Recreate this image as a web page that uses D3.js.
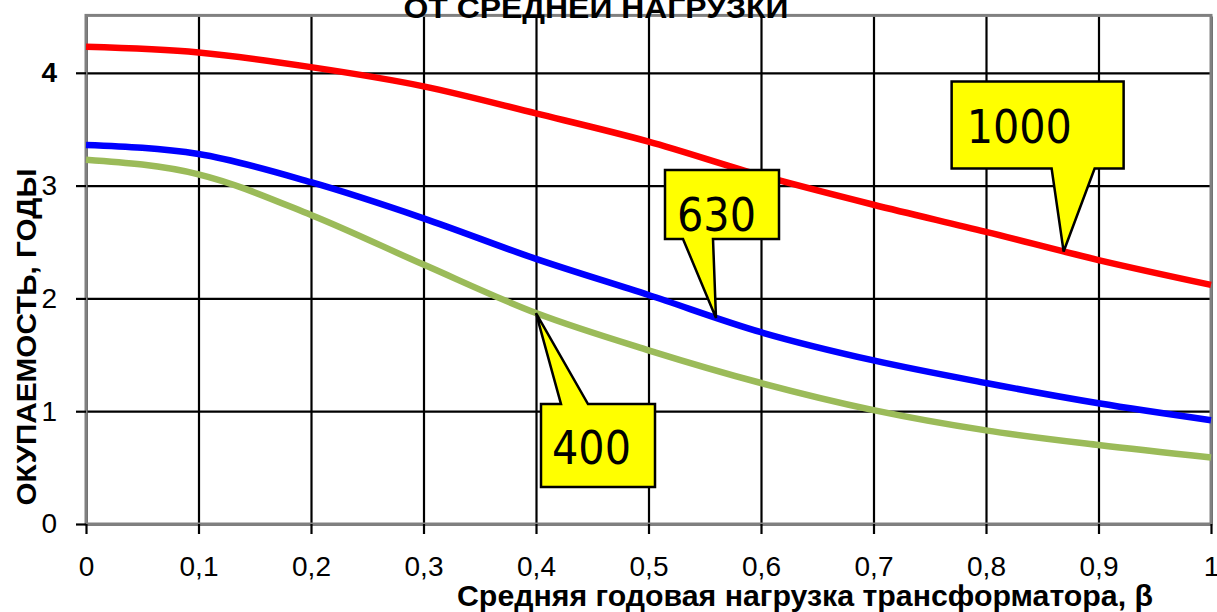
<!DOCTYPE html>
<html>
<head>
<meta charset="utf-8">
<script src="https://cdn.jsdelivr.net/npm/d3@7"></script>
<style>
html,body{margin:0;padding:0;background:#fff;}
svg{display:block;}
</style>
</head>
<body>
<svg id="c" width="1217" height="612"></svg>
<script>
// ---- data ----
const betaValues = [0, 0.1, 0.2, 0.3, 0.4, 0.5, 0.6, 0.7, 0.8, 0.9, 1.0];
const series1000 = [4.23, 4.18, 4.05, 3.88, 3.64, 3.39, 3.09, 2.83, 2.59, 2.34, 2.12];
const series630  = [3.36, 3.28, 3.03, 2.71, 2.35, 2.03, 1.70, 1.45, 1.25, 1.07, 0.92];
const series400  = [3.23, 3.10, 2.74, 2.30, 1.87, 1.54, 1.25, 1.01, 0.83, 0.70, 0.59];
const seriesNames = ["1000", "630", "400"];
const annotBeta = [0.869, 0.56, 0.40];
const xTicks = [0, 0.1, 0.2, 0.3, 0.4, 0.5, 0.6, 0.7, 0.8, 0.9, 1];
const xTickLabels = ["0", "0,1", "0,2", "0,3", "0,4", "0,5", "0,6", "0,7", "0,8", "0,9", "1"];
const yTicks = [0, 1, 2, 3, 4];
const yTickLabels = ["0", "1", "2", "3", "4"];
const titleText = "ОТ СРЕДНЕЙ НАГРУЗКИ";
const xTitle = "Средняя годовая нагрузка трансформатора,  β";
const yTitle = "ОКУПАЕМОСТЬ, ГОДЫ";

// ---- layout ----
const svg = d3.select("#c");
const L = 86, R = 1211, T = 16.4, B = 524;
const x = d3.scaleLinear().domain([0, 1]).range([L, R]);
const y = d3.scaleLinear().domain([0, 4.5]).range([B, T]);
const FONT = "'Liberation Sans', Arial, sans-serif";
const seriesData = [series1000, series630, series400];
const colors = ["#ff0000", "#0000ff", "#9bbb59"];

// grid
const gx = svg.append("g").attr("transform", `translate(0,${B})`)
  .call(d3.axisBottom(x).tickValues(xTicks).tickSize(-(B - T)).tickFormat(""));
gx.select(".domain").remove();
gx.selectAll("line").attr("stroke", "#000").attr("stroke-width", 2.2);
const gy = svg.append("g").attr("transform", `translate(${L},0)`)
  .call(d3.axisLeft(y).tickValues(yTicks).tickSize(-(R - L)).tickFormat(""));
gy.select(".domain").remove();
gy.selectAll("line").attr("stroke", "#000").attr("stroke-width", 2.2);

// frame
svg.append("rect").attr("x", L).attr("y", T - 1).attr("width", R - L).attr("height", B - T + 1)
  .attr("fill", "none").attr("stroke", "#808080").attr("stroke-width", 3);

// axes ticks + labels
const ax = svg.append("g").attr("transform", `translate(0,${B})`)
  .call(d3.axisBottom(x).tickValues(xTicks).tickSize(10).tickPadding(22).tickSizeOuter(0)
    .tickFormat((d, i) => xTickLabels[i]));
ax.select(".domain").remove();
ax.selectAll("line").attr("stroke", "#000").attr("stroke-width", 2.2);
ax.selectAll("text").attr("font-family", FONT).attr("font-size", 28).attr("fill", "#000");

const ay = svg.append("g").attr("transform", `translate(${L},0)`)
  .call(d3.axisLeft(y).tickValues(yTicks).tickSize(10).tickPadding(19).tickSizeOuter(0)
    .tickFormat((d, i) => yTickLabels[i]));
ay.select(".domain").remove();
ay.selectAll("line").attr("stroke", "#000").attr("stroke-width", 2.2);
ay.selectAll("text").attr("font-family", FONT).attr("font-size", 28).attr("fill", "#000")
  .attr("font-weight", d => d === 4 ? "bold" : "normal");

// curves
const line = d3.line().x((d, i) => x(betaValues[i])).y(d => y(d)).curve(d3.curveMonotoneX);
seriesData.forEach((s, k) => {
  svg.append("path").datum(s).attr("d", line).attr("fill", "none")
    .attr("stroke", colors[k]).attr("stroke-width", 6.5).attr("stroke-linejoin", "round");
});

// value on curve for annotation tip
function valueAt(s, b) {
  const tmp = svg.append("path").datum(s).attr("d", line).attr("fill", "none");
  const node = tmp.node();
  const len = node.getTotalLength();
  const px = x(b);
  let lo = 0, hi = len;
  for (let i = 0; i < 40; i++) {
    const m = (lo + hi) / 2;
    if (node.getPointAtLength(m).x < px) lo = m; else hi = m;
  }
  const p = node.getPointAtLength(lo);
  tmp.remove();
  return p.y;
}

// callouts: box offsets relative to tip (layout)
const callouts = [
  { box: [-112, -170, 60, -83], tail: [-12, 31], text: [-97, -109] },   // 1000
  { box: [-51, -148, 63, -79], tail: [-33, -3], text: [-39, -87] },     // 630
  { box: [5, 91, 119, 174], tail: [25, 52], text: [16, 151] }           // 400
];
callouts.forEach((c, k) => {
  const tx = x(annotBeta[k]);
  const ty = valueAt(seriesData[k], annotBeta[k]);
  const [x0, y0, x1, y1] = c.box.map((v, i) => (i % 2 === 0 ? tx : ty) + v);
  let p;
  if (c.box[1] < 0) {
    p = `M${x0},${y0}H${x1}V${y1}H${tx + c.tail[1]}L${tx},${ty}L${tx + c.tail[0]},${y1}H${x0}Z`;
  } else {
    p = `M${x0},${y0}H${tx + c.tail[0]}L${tx},${ty}L${tx + c.tail[1]},${y0}H${x1}V${y1}H${x0}Z`;
  }
  svg.append("path").attr("d", p).attr("fill", "#ffff00").attr("stroke", "#000")
    .attr("stroke-width", 2.5).attr("stroke-linejoin", "miter");
  svg.append("text").attr("x", tx + c.text[0]).attr("y", ty + c.text[1])
    .attr("font-family", "'DejaVu Sans Condensed', 'DejaVu Sans', sans-serif")
    .attr("font-stretch", "condensed")
    .attr("font-size", 46).attr("fill", "#000").text(seriesNames[k]);
});

// titles
svg.append("text").attr("x", 596).attr("y", 18).attr("text-anchor", "middle")
  .attr("font-family", FONT).attr("font-weight", "bold").attr("font-size", 29)
  .attr("textLength", 385).attr("lengthAdjust", "spacingAndGlyphs").text(titleText);
svg.append("text").attr("x", 805).attr("y", 606).attr("text-anchor", "middle")
  .attr("font-family", FONT).attr("font-weight", "bold").attr("font-size", 29)
  .attr("textLength", 696).attr("lengthAdjust", "spacingAndGlyphs").text(xTitle);
svg.append("text").attr("transform", "translate(36,337) rotate(-90)").attr("text-anchor", "middle")
  .attr("font-family", FONT).attr("font-weight", "bold").attr("font-size", 28)
  .attr("textLength", 337).attr("lengthAdjust", "spacingAndGlyphs").text(yTitle);
</script>
</body>
</html>
